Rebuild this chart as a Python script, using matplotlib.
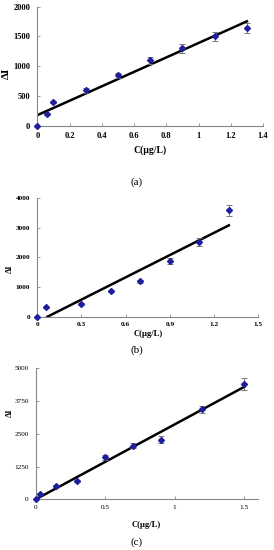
import numpy as np
import matplotlib
matplotlib.use("Agg")
from matplotlib import pyplot as plt

plt.rcParams['font.family'] = ['Liberation Serif', 'DejaVu Serif']

# panel (a)
a_x = [0, 0.06, 0.1, 0.3, 0.5, 0.7, 0.9, 1.1, 1.3]
a_y = [0, 200, 400, 600, 850, 1100, 1300, 1500, 1640]
a_err = [0, 20, 20, 40, 40, 60, 70, 70, 80]
a_fit = (1210, 180)  # slope, intercept
a_fit_x = [0, 1.3]

# panel (b)
b_x = [0, 0.06, 0.3, 0.5, 0.7, 0.9, 1.1, 1.3]
b_y = [0, 320, 420, 870, 1200, 1880, 2520, 3580]
b_err = [0, 20, 30, 30, 50, 100, 120, 180]
b_fit = (2500, -170)
b_fit_x = [0.068, 1.3]

# panel (c)
c_x = [0, 0.03, 0.15, 0.3, 0.5, 0.7, 0.9, 1.2, 1.5]
c_y = [30, 200, 520, 700, 1600, 2050, 2270, 3420, 4400]
c_err = [0, 30, 40, 40, 90, 100, 130, 150, 220]
c_fit = (2850, 0)
c_fit_x = [0, 1.5]

panels = [
    dict(x=a_x, y=a_y, err=a_err, fit=a_fit, fx=a_fit_x, rect=[0.136, 0.771, 0.824, 0.217],
         xlim=(0, 1.4), xt=[0, 0.2, 0.4, 0.6, 0.8, 1, 1.2, 1.4], xtl=['0', '0.2', '0.4', '0.6', '0.8', '1', '1.2', '1.4'],
         ylim=(0, 2000), yt=[0, 500, 1000, 1500, 2000],
         cap='(a)', cap_y=0.669, xlab_y=0.727, ylab=(0.025, 0.866), fs=6, bold=True, ylfs=8),
    dict(x=b_x, y=b_y, err=b_err, fit=b_fit, fx=b_fit_x, rect=[0.136, 0.424, 0.807, 0.216],
         xlim=(0, 1.5), xt=[0, 0.3, 0.6, 0.9, 1.2, 1.5], xtl=['0', '0.3', '0.6', '0.9', '1.2', '1.5'],
         ylim=(0, 4000), yt=[0, 1000, 2000, 3000, 4000],
         cap='(b)', cap_y=0.364, xlab_y=0.393, ylab=(0.035, 0.511), fs=5.2, bold=True, ylfs=6),
    dict(x=c_x, y=c_y, err=c_err, fit=c_fit, fx=c_fit_x, rect=[0.130, 0.092, 0.811, 0.239],
         xlim=(0, 1.6), xt=[0, 0.5, 1, 1.5], xtl=['0', '0.5', '1', '1.5'],
         ylim=(0, 5000), yt=[0, 1250, 2500, 3750, 5000],
         cap='(c)', cap_y=0.015, xlab_y=0.045, ylab=(0.035, 0.249), fs=5.2, bold=False, ylfs=6),
]

fig = plt.figure(figsize=(2.74, 5.5), dpi=100)

for p in panels:
    ax = fig.add_axes(p['rect'])
    fx = np.array(p['fx'])
    ax.plot(fx, p['fit'][0] * fx + p['fit'][1], color='black', lw=1.8, zorder=2)
    ax.errorbar(p['x'], p['y'], yerr=p['err'], fmt='D', ms=3, color='#1f1f9e',
                ecolor='#777777', elinewidth=0.7, capsize=2, capthick=0.7, zorder=3, clip_on=False)
    ax.set_xlim(*p['xlim'])
    ax.set_ylim(*p['ylim'])
    ax.set_xticks(p['xt'])
    ax.set_xticklabels(p['xtl'])
    ax.set_yticks(p['yt'])
    for s in ['top', 'right']:
        ax.spines[s].set_visible(False)
    for s in ['left', 'bottom']:
        ax.spines[s].set_color('#888888')
        ax.spines[s].set_linewidth(0.8)
    w = 'bold' if p['bold'] else 'normal'
    ax.tick_params(direction='in', length=2, width=0.6, color='#888888', labelsize=p['fs'])
    ax.tick_params(axis='y', pad=5)
    ax.tick_params(axis='x', pad=4)
    for lab in ax.get_xticklabels() + ax.get_yticklabels():
        lab.set_fontweight(w)
    cx = p['rect'][0] + p['rect'][2] / 2
    fig.text(cx, p['xlab_y'], u'C(\u03bcg/L)', ha='center', va='center', fontsize=p['fs'] + 1, fontweight='bold')
    fig.text(p['ylab'][0], p['ylab'][1], u'\u0394I', ha='center', va='center', rotation=90,
             fontsize=p['ylfs'], fontweight='bold')
    fig.text(0.5, p['cap_y'], p['cap'], ha='center', va='center', fontsize=8)

fig.savefig('out.png', dpi=100)
